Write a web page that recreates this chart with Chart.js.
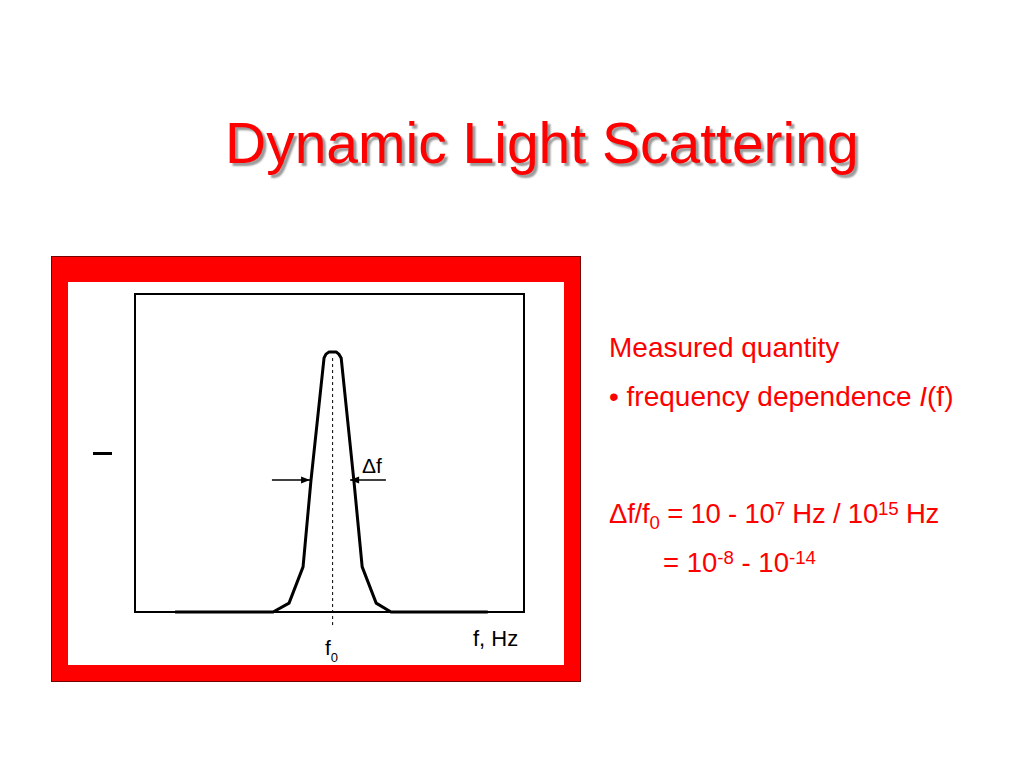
<!DOCTYPE html>
<html>
<head>
<meta charset="utf-8">
<script src="https://cdn.jsdelivr.net/npm/chart.js@4.4.1/dist/chart.umd.min.js"></script>
<style>
    html, body { margin: 0; padding: 0; background: #fff; }
    body { width: 1024px; height: 768px; position: relative; overflow: hidden;
           font-family: "Liberation Sans", Arial, sans-serif; }
    .abs { position: absolute; white-space: nowrap; line-height: 1; }
    .title { left: 225px; top: 115px; font-size: 57px; color: #f00;
             text-shadow: 3px 3px 2px #9a9a9a; }
    .red-text { color: #f00; font-size: 28px; }
    .sup { position: relative; top: -0.45em; font-size: 0.68em; }
    .sub { position: relative; top: 0.3em; font-size: 0.68em; }
    .frame { left: 51px; top: 256px; width: 528px; height: 424px;
             background: #f00; border: 1px solid #700; }
    .frame-inner { position: absolute; left: 16px; top: 25px; width: 496px; height: 383px; background: #fff; }
    .dash { left: 93px; top: 452px; width: 19px; height: 3px; background: #000; }
    .lbl { font-size: 21px; color: #000; }
    #chart { position: absolute; left: 0; top: 0; }
</style>
</head>
<body>
<div class="abs title">Dynamic Light Scattering</div>

<div class="abs frame"><div class="frame-inner"></div></div>
<div class="abs dash"></div>
<div class="abs lbl" style="left:362px; top:455px;">&Delta;f</div>
<div class="abs lbl" style="left:473px; top:628px; font-size:22px;">f, Hz</div>
<div class="abs lbl" style="left:325px; top:637px;">f<span class="sub" style="font-size:13px; top:7px;">0</span></div>

<div class="abs red-text" style="left:609px; top:334px;">Measured quantity</div>
<div class="abs red-text" style="left:609px; top:383px;">&bull; frequency dependence <i>I</i>(f)</div>
<div class="abs red-text" style="left:609px; top:500px; font-size:27.5px; letter-spacing:-0.2px;">&Delta;f/f<span class="sub">0</span> = 10 - 10<span class="sup">7</span> Hz / 10<span class="sup">15</span> Hz</div>
<div class="abs red-text" style="left:663px; top:549px; font-size:27.5px;">= 10<span class="sup">-8</span> - 10<span class="sup">-14</span></div>

<canvas id="chart" width="1024" height="768"></canvas>

<script>
// spectrum I(f) (plot box = 0..100 on both axes)
const freq = [10.3, 35.5, 39.6, 43.2, 45.2, 48.6, 49.1, 49.9, 51.7, 52.4, 53.0, 56.3, 58.4, 62.0, 65.8, 90.7];
const intensity = [0, 0, 2.8, 14.2, 40.9, 79.9, 81.1, 81.8, 81.8, 81.1, 79.9, 40.9, 14.2, 2.8, 0, 0];

// centre frequency marker
const f0 = 50.8;
const f0Range = [-4.1, 80.8];

// width arrows (from, to) at the half-height level
const widthLevel = 41.5;
const leftArrow = [35.2, 45.0];
const rightArrow = [64.5, 55.3];

const toPoints = (xs, ys) => xs.map((x, i) => ({ x: x, y: ys[i] }));

const framePlugin = {
    id: 'framePlugin',
    beforeDatasetsDraw(chart) {
        const { ctx, chartArea: a } = chart;
        ctx.save();
        ctx.strokeStyle = '#000';
        ctx.lineWidth = 2;
        ctx.strokeRect(a.left, a.top, a.right - a.left, a.bottom - a.top);
        ctx.restore();
    },
    afterDatasetsDraw(chart) {
        // arrowheads on the two width arrows
        const { ctx, scales } = chart;
        const y = scales.y.getPixelForValue(widthLevel);
        [leftArrow, rightArrow].forEach(arr => {
            const tip = scales.x.getPixelForValue(arr[1]);
            const dir = arr[1] > arr[0] ? 1 : -1;
            ctx.save();
            ctx.fillStyle = '#000';
            ctx.beginPath();
            ctx.moveTo(tip, y);
            ctx.lineTo(tip - dir * 9, y - 3.5);
            ctx.lineTo(tip - dir * 9, y + 3.5);
            ctx.closePath();
            ctx.fill();
            ctx.restore();
        });
    }
};

new Chart(document.getElementById('chart'), {
    type: 'scatter',
    data: {
        datasets: [
            {
                data: toPoints(freq, intensity),
                showLine: true,
                borderColor: '#000',
                borderWidth: 3,
                pointRadius: 0,
                borderJoinStyle: 'round',
                clip: false
            },
            {
                data: toPoints([f0, f0], f0Range),
                showLine: true,
                borderColor: '#000',
                borderWidth: 1,
                borderDash: [3, 3],
                pointRadius: 0,
                clip: false
            },
            {
                data: toPoints(leftArrow, [widthLevel, widthLevel]),
                showLine: true,
                borderColor: '#000',
                borderWidth: 1.5,
                pointRadius: 0,
                clip: false
            },
            {
                data: toPoints(rightArrow, [widthLevel, widthLevel]),
                showLine: true,
                borderColor: '#000',
                borderWidth: 1.5,
                pointRadius: 0,
                clip: false
            }
        ]
    },
    options: {
        responsive: false,
        animation: false,
        events: [],
        layout: { padding: { left: 135, top: 294, right: 500, bottom: 156 } },
        plugins: { legend: { display: false }, tooltip: { enabled: false } },
        scales: {
            x: { type: 'linear', min: 0, max: 100, display: false },
            y: { type: 'linear', min: 0, max: 100, display: false }
        }
    },
    plugins: [framePlugin]
});
</script>
</body>
</html>
